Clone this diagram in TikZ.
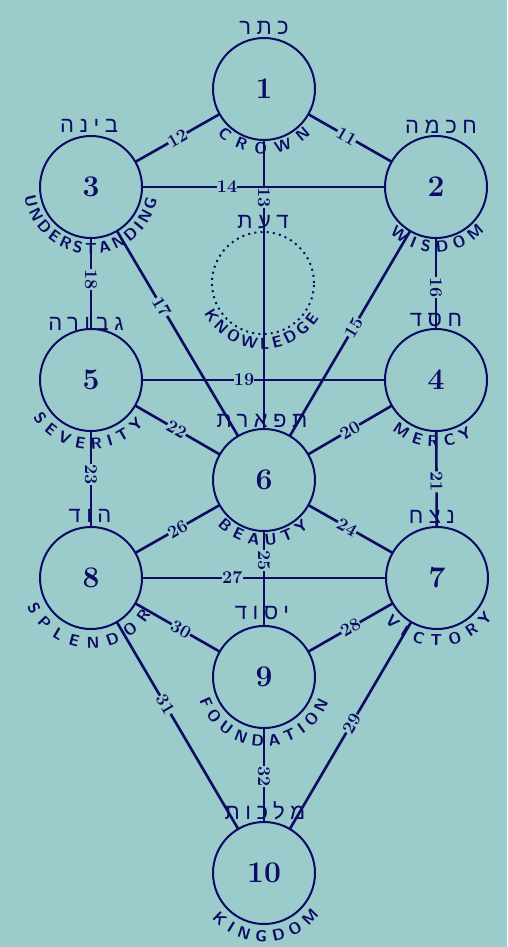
\documentclass[tikz,border=0pt]{standalone}
\usepackage{fontspec}
\usetikzlibrary{decorations.text}
\newfontfamily\hebfont[Script=Hebrew,LetterSpace=25]{Liberation Sans}
\newcommand\lblfont{\fontsize{16}{16}\selectfont\sffamily\bfseries}
\TeXXeTstate=1
\begin{document}
\begin{tikzpicture}[x=1pt,y=1pt]
\definecolor{ink}{RGB}{12,12,100}
\definecolor{bg}{RGB}{155,203,203}
\tikzset{sefira/.style = {shape        = circle,
                          draw         = ink,
                          line width   = 2pt,
                          text         = ink,
                          inner sep    = 0pt,
                          outer sep    = 0pt,
                          minimum size = 102pt,
                          font         = \fontsize{30}{32}\selectfont\bfseries},
         daath/.style  = {sefira, dash pattern=on 2pt off 4.2pt},
         canal/.style  = {draw=ink, line width=2.6pt},
         num/.style    = {sloped, fill=bg, text=ink, inner sep=0.3pt,
                          font=\fontsize{18}{18}\selectfont\bfseries},
         nom/.style    = {text=ink, inner sep=0pt,
                          font=\hebfont\fontsize{22}{22}\selectfont},
         arc text/.style = {decorate, decoration={text along path,
                          text align=fit to path, text color=ink,
                          text={|\lblfont|#1}}}}
\fill[bg] (0,0) rectangle (507,-947);
\coordinate (C1)  at (264,-89);
\coordinate (C2)  at (436,-187);
\coordinate (C3)  at (91,-187);
\coordinate (CD)  at (263,-283);
\coordinate (C4)  at (436,-380);
\coordinate (C5)  at (91,-380);
\coordinate (C6)  at (264,-480);
\coordinate (C7)  at (437,-578);
\coordinate (C8)  at (91,-578);
\coordinate (C9)  at (264,-677);
\coordinate (C10) at (264,-873);
% the spheres
\node[sefira] (S1)  at (C1)  {1};
\node[sefira] (S2)  at (C2)  {2};
\node[sefira] (S3)  at (C3)  {3};
\node[daath]  (SD)  at (CD)  {};
\node[sefira] (S4)  at (C4)  {4};
\node[sefira] (S5)  at (C5)  {5};
\node[sefira] (S6)  at (C6)  {6};
\node[sefira] (S7)  at (C7)  {7};
\node[sefira] (S8)  at (C8)  {8};
\node[sefira] (S9)  at (C9)  {9};
\node[sefira] (S10) at (C10) {10};
% the paths
\draw[canal] (S1) -- (S2) node[num,pos=.46]{11};
\draw[canal] (S1) -- (S3) node[num,pos=.5]{12};
\draw[canal] (S1) -- (S6) node[num,pos=.2]{13};
\draw[canal] (S3) -- (S2) node[num,pos=.35]{14};
\draw[canal] (S2) -- (S6) node[num,pos=.47]{15};
\draw[canal] (S2) -- (S4) node[num,pos=.54]{16};
\draw[canal] (S3) -- (S6) node[num,pos=.37]{17};
\draw[canal] (S3) -- (S5) node[num,pos=.46]{18};
\draw[canal] (S5) -- (S4) node[num,pos=.42]{19};
\draw[canal] (S4) -- (S6) node[num,pos=.5]{20};
\draw[canal] (S4) -- (S7) node[num,pos=.53]{21};
\draw[canal] (S5) -- (S6) node[num,pos=.49]{22};
\draw[canal] (S5) -- (S8) node[num,pos=.45]{23};
\draw[canal] (S6) -- (S7) node[num,pos=.46]{24};
\draw[canal] (S6) -- (S9) node[num,pos=.31]{25};
\draw[canal] (S8) -- (S6) node[num,pos=.5]{26};
\draw[canal] (S8) -- (S7) node[num,pos=.37]{27};
\draw[canal] (S9) -- (S7) node[num,pos=.5]{28};
\draw[canal] (S7) -- (S10) node[num,pos=.49]{29};
\draw[canal] (S8) -- (S9) node[num,pos=.54]{30};
\draw[canal] (S8) -- (S10) node[num,pos=.4]{31};
\draw[canal] (S9) -- (S10) node[num,pos=.52]{32};
% hebrew names
\node[nom] (H1)  at (264,-28)  {\beginR כתר\endR};
\node[nom] (H2)  at (441,-127) {\beginR חכמה\endR};
\node[nom] (H3)  at (89,-126)  {\beginR בינה\endR};
\node[nom] (HD)  at (263,-222) {\beginR דעת\endR};
\node[nom] (H4)  at (436,-320) {\beginR חסד\endR};
\node[nom] (H5)  at (86,-324)  {\beginR גבורה\endR};
\node[nom] (H6)  at (262,-421) {\beginR תפארת\endR};
\node[nom] (H7)  at (432,-517) {\beginR נצח\endR};
\node[nom] (H8)  at (90,-516)  {\beginR הוד\endR};
\node[nom] (H9)  at (262,-613) {\beginR יסוד\endR};
\node[nom] (H10) at (265,-811) {\beginR מלכות\endR};
% english names under the spheres
\path[arc text=CROWN]         ([shift={(224:65)}]C1)  arc[start angle=224,end angle=316,radius=65];
\path[arc text=WISDOM]        ([shift={(225:65)}]C2)  arc[start angle=225,end angle=318,radius=65];
\path[arc text=UNDERSTANDING] ([shift={(188:67)}]C3)  arc[start angle=188,end angle=350,radius=67];
\path[arc text=KNOWLEDGE]     ([shift={(207:66)}]CD)  arc[start angle=207,end angle=328,radius=66];
\path[arc text=MERCY]         ([shift={(229:67)}]C4)  arc[start angle=229,end angle=303,radius=67];
\path[arc text=SEVERITY]      ([shift={(213:69)}]C5)  arc[start angle=213,end angle=320,radius=69];
\path[arc text=BEAUTY]        ([shift={(224:65)}]C6)  arc[start angle=224,end angle=314,radius=65];
\path[arc text=VICTORY]       ([shift={(220:68)}]C7)  arc[start angle=220,end angle=325,radius=68];
\path[arc text=SPLENDOR]      ([shift={(204:70)}]C8)  arc[start angle=204,end angle=329,radius=70];
\path[arc text=FOUNDATION]    ([shift={(200:69)}]C9)  arc[start angle=200,end angle=339,radius=69];
\path[arc text=KINGDOM]       ([shift={(221:69)}]C10) arc[start angle=221,end angle=323,radius=69];
\end{tikzpicture}
\end{document}
